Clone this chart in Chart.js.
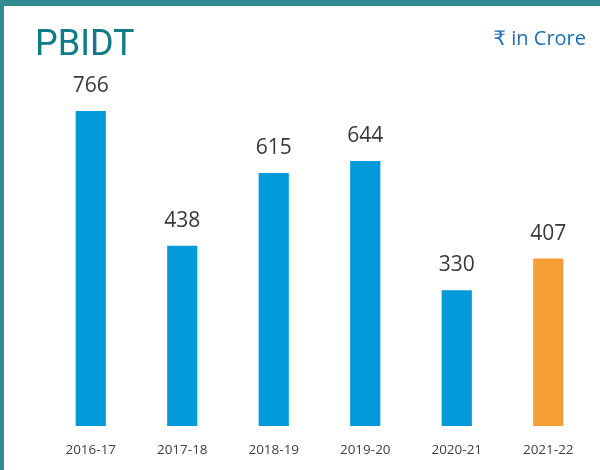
<!DOCTYPE html>
<html lang="en">
<head>
    <meta charset="UTF-8">
    <title>PBIDT</title>
    <script src="https://cdn.jsdelivr.net/npm/chart.js"></script>
    <style>
        body { margin: 0; background: #fff; }
        #wrap { position: relative; width: 600px; height: 470px; overflow: hidden; }
        #pbidtChart { position: absolute; left: 0; top: 0; }
        .bar-top { position: absolute; left: 0; top: 0; width: 600px; height: 6px; background: #338b92; }
        .bar-left { position: absolute; left: 0; top: 0; width: 4px; height: 470px; background: #338b92; }
        #title { position: absolute; left: 35px; top: 25px; font-family: Roboto, sans-serif; font-size: 36px; color: #117a89; line-height: 1; }
        #unit { position: absolute; right: 14px; top: 28px; font-family: "Open Sans", "DejaVu Sans", sans-serif; font-size: 20px; color: #1f6db4; line-height: 1; }
    </style>
</head>
<body>
<div id="wrap">
    <canvas id="pbidtChart" width="600" height="470"></canvas>
    <div class="bar-top"></div>
    <div class="bar-left"></div>
    <div id="title">PBIDT</div>
    <div id="unit">₹ in Crore</div>
</div>
<script>
    var years = ['2016-17', '2017-18', '2018-19', '2019-20', '2020-21', '2021-22'];
    var pbidt = [766, 438, 615, 644, 330, 407];

    var blue = '#009ad9';
    var orange = '#f59e33';

    // numbers above each bar
    var valueLabels = {
        id: 'valueLabels',
        afterDatasetsDraw: function(chart) {
            var ctx = chart.ctx;
            var meta = chart.getDatasetMeta(0);
            ctx.save();
            ctx.font = '21px "Open Sans", sans-serif';
            ctx.fillStyle = '#383838';
            ctx.textAlign = 'center';
            ctx.textBaseline = 'alphabetic';
            meta.data.forEach(function(bar, i) {
                ctx.fillText(pbidt[i], bar.x, bar.y - 19);
            });
            ctx.restore();
        }
    };

    var ctx = document.getElementById('pbidtChart').getContext('2d');
    var pbidtChart = new Chart(ctx, {
        type: 'bar',
        data: {
            labels: years,
            datasets: [{
                data: pbidt,
                backgroundColor: years.map(function(y, i) { return i === years.length - 1 ? orange : blue; }),
                borderWidth: 0,
                barPercentage: 0.33,
                categoryPercentage: 1
            }]
        },
        options: {
            responsive: false,
            animation: false,
            layout: { padding: { left: 45, right: 6, top: 14.7, bottom: 0 } },
            plugins: { legend: { display: false }, tooltip: { enabled: false } },
            scales: {
                x: {
                    grid: { display: false, drawTicks: false },
                    border: { display: false },
                    afterFit: function(scale) { scale.height = 44; }, // keep bar baseline at 426
                    ticks: {
                        padding: 16,
                        color: '#404040',
                        font: { family: '"Open Sans", sans-serif', size: 13.5 }
                    }
                },
                y: {
                    display: false,
                    min: 0,
                    max: 1000
                }
            }
        },
        plugins: [valueLabels]
    });
</script>
</body>
</html>
